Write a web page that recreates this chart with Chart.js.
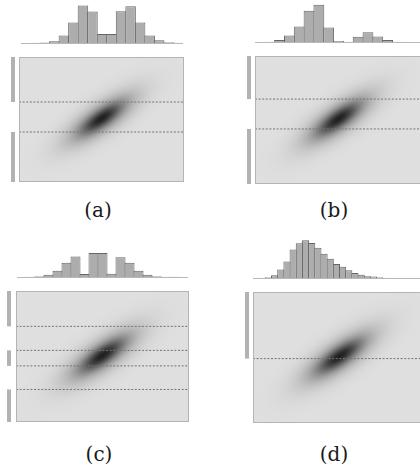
<!DOCTYPE html>
<html>
<head>
<meta charset="utf-8">
<script src="https://cdn.jsdelivr.net/npm/chart.js@4.4.0/dist/chart.umd.min.js"></script>
<style>
  html, body { margin: 0; padding: 0; background: #fff; }
  #page { position: relative; width: 420px; height: 473px; overflow: hidden; }
  canvas { position: absolute; }
  .lbl { position: absolute; width: 60px; text-align: center; font: 20px "DejaVu Serif", serif; line-height: 20px; color: #1a1a1a; }
</style>
</head>
<body>
<div id="page"></div>
<script>
// histogram counts per bin
const histA = [0, 1, 2, 6, 27, 73, 133, 112, 32, 32, 113, 131, 73, 27, 10, 3, 1];
const histB = [0, 1, 7, 23, 55, 112, 133, 52, 4, 1, 19, 35, 20, 7, 1, 0, 0];
const histC = [0, 1, 3, 8, 23, 53, 77, 11, 90, 90, 12, 74, 53, 23, 8, 3, 1, 0.5, 0];
const histD = [0, 1, 3, 10, 30, 59, 102, 124, 135, 125, 108, 87, 69, 50, 40, 28, 18, 12, 6, 5, 3, 1, 0, 0, 0, 0, 0, 0];

// dashed thresholds on y
const cutsA = [0.84, -0.6];
const cutsB = [0.98, -0.42];
const cutsC = [1.38, 0.28, -0.43, -1.51];
const cutsD = [-0.05];

// y intervals marked by the gray bars on the left
const bandsA = [[0.84, 3], [-3, -0.6]];
const bandsB = [[0.98, 3], [-3, -0.42]];
const bandsC = [[1.38, 3], [-0.43, 0.28], [-3, -1.51]];
const bandsD = [[-0.05, 3]];

// the 2d density (same in every panel): a sharp core plus a wider halo
const xRange = [-4, 4];
const yRange = [-3, 3];
const densityMean = [0, 0.05];
const densitySigma = [1.1, 0.82];
const densityRho = 0.77;
const densityWeights = [0.55, 0.45];
const densityScales = [0.6, 1.1];

const labels = ["(a)", "(b)", "(c)", "(d)"];

const panels = [
  { hist: histA, cuts: cutsA, bands: bandsA, label: labels[0],
    h: { left: 21, top: 0, width: 162, height: 51, yMax: 153 },
    box: { left: 19, top: 57, width: 165, height: 125 }, barX: 11, lab: { x: 98, y: 200 } },
  { hist: histB, cuts: cutsB, bands: bandsB, label: labels[1],
    h: { left: 255, top: 0, width: 167, height: 50, yMax: 150 },
    box: { left: 255, top: 56, width: 167, height: 128 }, barX: 247, lab: { x: 334, y: 200 } },
  { hist: histC, cuts: cutsC, bands: bandsC, label: labels[2],
    h: { left: 17, top: 245, width: 171, height: 40, yMax: 120 },
    box: { left: 16, top: 291, width: 173, height: 131 }, barX: 7, lab: { x: 99, y: 444 } },
  { hist: histD, cuts: cutsD, bands: bandsD, label: labels[3],
    h: { left: 253, top: 236, width: 173, height: 50, yMax: 150 },
    box: { left: 253, top: 292, width: 173, height: 131 }, barX: 245, lab: { x: 334, y: 444 } },
];

const BG = 223, DARK = 32;

const densityPlugin = {
  id: "density",
  beforeDatasetsDraw(chart) {
    const { ctx, chartArea: a, scales: { x, y } } = chart;
    const w = Math.round(a.right - a.left), h = Math.round(a.bottom - a.top);
    const off = document.createElement("canvas");
    off.width = w; off.height = h;
    const octx = off.getContext("2d");
    const img = octx.createImageData(w, h);
    const [mx, my] = densityMean, [sx, sy] = densitySigma, r = densityRho;
    for (let py = 0; py < h; py++) {
      const yv = y.getValueForPixel(a.top + py + 0.5);
      const dy = (yv - my) / sy;
      for (let px = 0; px < w; px++) {
        const xv = x.getValueForPixel(a.left + px + 0.5);
        const dx = (xv - mx) / sx;
        const q = (dx * dx - 2 * r * dx * dy + dy * dy) / (1 - r * r);
        let f = 0;
        densityWeights.forEach((wt, k) => {
          const s = densityScales[k];
          f += wt * Math.exp(-0.5 * q / (s * s));
        });
        const g = BG - (BG - DARK) * f;
        const i = (py * w + px) * 4;
        img.data[i] = img.data[i + 1] = img.data[i + 2] = g;
        img.data[i + 3] = 255;
      }
    }
    octx.putImageData(img, 0, 0);
    ctx.drawImage(off, a.left, a.top);
  },
  afterDraw(chart, args, opts) {
    const { ctx, chartArea: a, scales: { y } } = chart;
    ctx.save();
    ctx.strokeStyle = "#b4b4b4";
    ctx.lineWidth = 1;
    ctx.strokeRect(a.left + 0.5, a.top + 0.5, a.right - a.left - 1, a.bottom - a.top - 1);
    ctx.fillStyle = "#b2b2b2";
    opts.bands.forEach(([lo, hi]) => {
      const y1 = y.getPixelForValue(hi), y2 = y.getPixelForValue(lo);
      ctx.fillRect(opts.barX, y1, 4, y2 - y1);
    });
    ctx.restore();
  }
};

const page = document.getElementById("page");

function addCanvas(left, top, width, height) {
  const c = document.createElement("canvas");
  c.width = width; c.height = height;
  c.style.left = left + "px"; c.style.top = top + "px";
  page.appendChild(c);
  return c;
}

panels.forEach(p => {
  // histogram
  const hc = addCanvas(p.h.left, p.h.top, p.h.width, p.h.height + 1);
  const binW = p.h.width / p.hist.length;
  new Chart(hc, {
    type: "bar",
    data: {
      labels: p.hist.map((_, i) => i),
      datasets: [{
        data: p.hist,
        backgroundColor: "#adadad",
        borderColor: "#666666",
        borderWidth: { top: 1, left: 1, right: 1, bottom: 0 },
        borderSkipped: "start",
        barPercentage: 1 + 1 / binW,
        categoryPercentage: 1
      }]
    },
    options: {
      responsive: false,
      animation: false,
      events: [],
      layout: { padding: { bottom: 1 } },
      plugins: { legend: { display: false }, tooltip: { enabled: false } },
      scales: {
        x: { display: true, grid: { display: false }, ticks: { display: false },
             border: { display: true, color: "#b8b8b8", width: 1 } },
        y: { display: false, min: 0, max: p.h.yMax }
      }
    }
  });

  // density box with cut lines and gray bands
  const pad = p.box.left - p.barX;
  const dc = addCanvas(p.barX, p.box.top, p.box.width + pad, p.box.height);
  new Chart(dc, {
    type: "scatter",
    data: {
      datasets: p.cuts.map(v => ({
        type: "line",
        data: [{ x: xRange[0], y: v }, { x: xRange[1], y: v }],
        borderColor: "#747474",
        borderWidth: 1,
        borderDash: [2, 1.6],
        pointRadius: 0
      }))
    },
    options: {
      responsive: false,
      animation: false,
      events: [],
      layout: { padding: { left: pad } },
      plugins: { legend: { display: false }, tooltip: { enabled: false },
                 density: { bands: p.bands, barX: 0 } },
      scales: {
        x: { type: "linear", display: false, min: xRange[0], max: xRange[1] },
        y: { type: "linear", display: false, min: yRange[0], max: yRange[1] }
      }
    },
    plugins: [densityPlugin]
  });

  const lb = document.createElement("div");
  lb.className = "lbl";
  lb.textContent = p.label;
  lb.style.left = (p.lab.x - 30) + "px";
  lb.style.top = p.lab.y + "px";
  page.appendChild(lb);
});
</script>
</body>
</html>
